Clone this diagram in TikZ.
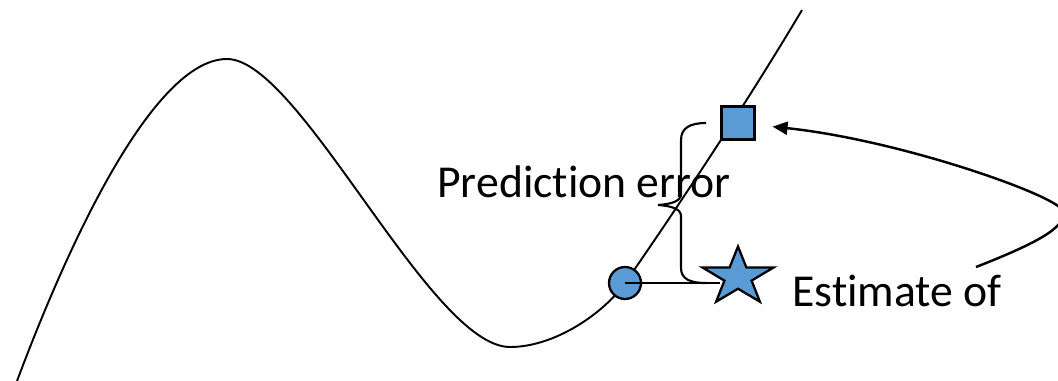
\documentclass[tikz,border=0pt]{standalone}
\usepackage{fontspec}
\setmainfont{Carlito}[Ligatures=NoCommon]
\usepackage{tikz}
\usetikzlibrary{arrows.meta,shapes.geometric}
\definecolor{MarkBlue}{HTML}{5B9BD5}

\begin{document}
\begin{tikzpicture}[x=0.02cm,y=-0.02cm,
  circ/.style={draw=black,line width=1.3pt,fill=MarkBlue,circle,minimum size=0.64cm,inner sep=0pt},
  sqbox/.style={draw=black,line width=1.3pt,fill=MarkBlue,rectangle,minimum size=0.66cm,inner sep=0pt},
  starbox/.style={draw=black,line width=1.3pt,fill=MarkBlue,star,star points=5,star point ratio=2.6,minimum size=1.22cm,inner sep=0pt},
  lbl/.style={font=\fontsize{26}{30}\selectfont,anchor=base west,inner sep=0pt},
  arr/.style={-{Triangle[length=0.3cm,width=0.26cm]},line width=1.4pt}
]
\useasboundingbox (0,0) rectangle (1058,380);

% the function
\draw[line width=1.1pt] (17,381) .. controls (80,213) and (160,59) .. (227,59)
  .. controls (300,59) and (430,347) .. (510,347)
  .. controls (555,347) and (604,313) .. (625,283)
  .. controls (667,223) and (745,106) .. (802,10);

\node[lbl] (pe) at (437,197) {Prediction error};
\node[lbl] (eo) at (792,306) {Estimate of};

\node[circ] (dot) at (625,283) {};
\coordinate (lineend) at (720,283);
\draw[line width=1.4pt] (dot.center) -- (lineend);
\begin{scope}[shift={(738,277)},xscale=1.22]
  \node[starbox,transform shape] (est) at (0,0) {};
\end{scope}
\node[sqbox] (sq) at (738,123) {};

% brace
\coordinate (brtop) at (706,123);
\coordinate (brbot) at (706,283);
\draw[line width=1.2pt] (brtop) .. controls (690,123) and (681,128) .. (681,140)
  -- (681,194) .. controls (681,201) and (672,204) .. (658,205)
  .. controls (672,206) and (681,209) .. (681,216)
  -- (681,268) .. controls (681,279) and (690,283) .. (brbot);

% arrow back to the square
\coordinate (arrstart) at (976,267);
\draw[arr,shorten >=0.34cm] (arrstart) .. controls (1045,240) and (1068,225) .. (1062,210)
  .. controls (1055,195) and (900,140) .. (sq);
\end{tikzpicture}
\end{document}
